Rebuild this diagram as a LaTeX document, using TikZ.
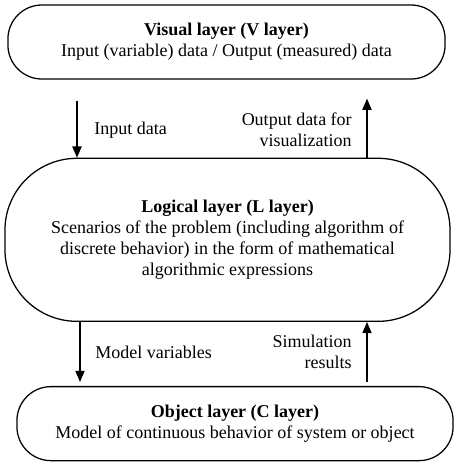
\documentclass[tikz,border=0pt]{standalone}
\usepackage{fontspec}
\setmainfont{Liberation Serif}
\usetikzlibrary{arrows.meta, positioning}

\begin{document}
\begin{tikzpicture}[
    x=0.025cm, y=-0.025cm,
    node distance=1.5cm,
    layer/.style={rectangle, draw, line width=0.9pt, rounded corners=0.85cm, minimum width=10.925cm, minimum height=1.85cm, inner sep=0pt, align=center, font=\fontsize{12.8}{15}\selectfont},
    arrow/.style={-{Triangle[length=2.8mm, width=2.3mm]}, line width=0.9pt},
    lbl/.style={inner sep=0pt, font=\fontsize{12.8}{15}\selectfont}
]
    \useasboundingbox (0,0) rectangle (455,463);

    % 三层
    \node[layer] (visual) at (226.5,42) {\textbf{Visual layer (V layer)}\\Input (variable) data / Output (measured) data};
    \node[layer, below=1.95cm of visual, xshift=0.025cm, minimum width=11.125cm, minimum height=4.075cm, rounded corners=1.8cm] (logical) {\textbf{Logical layer (L layer)}\\Scenarios of the problem (including algorithm of\\discrete behavior) in the form of mathematical\\algorithmic expressions};
    \node[layer, below=1.6cm of logical, xshift=0.1875cm, minimum width=10.9cm] (object) {\textbf{Object layer (C layer)}\\Model of continuous behavior of system or object};

    % 箭头位置
    \coordinate (lx) at (77,0);
    \coordinate (rx) at (367,0);
    \coordinate (mx) at (80,0);

    % 连接
    \draw[arrow, shorten <=0.525cm] (visual.south -| lx) -- (logical.north -| lx);
    \draw[arrow, shorten >=0.475cm] (logical.north -| rx) -- (visual.south -| rx);
    \draw[arrow, shorten >=0.1cm] (logical.south -| mx) -- (object.north -| mx);
    \draw[arrow, shorten <=0.1cm] (object.north -| rx) -- (logical.south -| rx);

    % 标签
    \node[lbl, anchor=west] (indata) at (94,130) {Input data};
    \node[lbl, anchor=east, align=right] (outdata) at (352,129.5) {Output data for\\visualization};
    \node[lbl, anchor=west] (modelvar) at (95,352) {Model variables};
    \node[lbl, anchor=east, align=right] (simres) at (352,351.5) {Simulation\\results};
\end{tikzpicture}
\end{document}
